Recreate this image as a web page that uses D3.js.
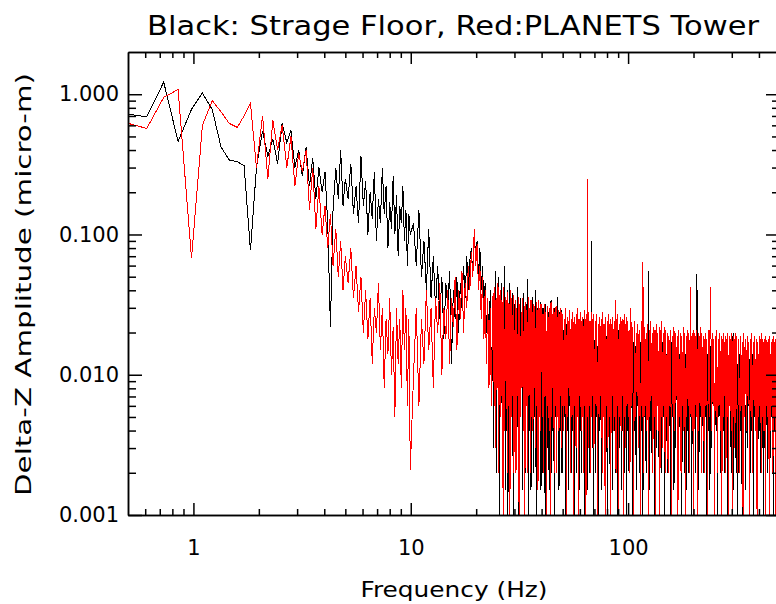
<!DOCTYPE html>
<html>
<head>
<meta charset="utf-8">
<script src="https://cdn.jsdelivr.net/npm/d3@7"></script>
<style>
  html, body { margin: 0; padding: 0; background: #fff; }
  svg { display: block; }
  text { font-family: "DejaVu Sans", sans-serif; fill: #000; }
</style>
</head>
<body>
<div id="chart"></div>
<script>
// frequency bins (Hz), shared by both spectra
var freqHz = [
  // 0.5 - 5 Hz
  0.50, 0.61, 0.73, 0.85, 0.98, 1.10, 1.22, 1.34, 1.46, 1.59,
  1.71, 1.83, 1.95, 2.08, 2.20, 2.32, 2.44, 2.56, 2.69, 2.81,
  2.93, 3.05, 3.17, 3.30, 3.42, 3.54, 3.66, 3.78, 3.91, 4.03,
  4.15, 4.27, 4.39, 4.52, 4.64, 4.76, 4.88, 5.00,
  // 5 - 10 Hz
  5.15, 5.30, 5.45, 5.60, 5.75, 5.90, 6.05, 6.20, 6.35, 6.50,
  6.65, 6.80, 6.95, 7.10, 7.25, 7.40, 7.55, 7.70, 7.85, 8.00,
  8.15, 8.30, 8.45, 8.60, 8.75, 8.90, 9.05, 9.20, 9.35, 9.50,
  9.65, 9.80, 9.95,
  // 10 - 20 Hz
  10.3, 10.6, 10.9, 11.2, 11.5, 11.8, 12.1, 12.4, 12.7, 13.0,
  13.3, 13.6, 13.9, 14.2, 14.5, 14.8, 15.1, 15.4, 15.7, 16.0,
  16.3, 16.6, 16.9, 17.2, 17.5, 17.8, 18.1, 18.4, 18.7, 19.0,
  19.3, 19.6, 19.9,
  // 20 - 24 Hz
  20.2, 20.5, 20.8, 21.1, 21.4, 21.7, 22.0, 22.3, 22.6, 22.9,
  23.2, 23.5, 23.8,
  // 24 - 30 Hz
  24.0, 24.2, 24.4, 24.6, 24.8, 25.0, 25.2, 25.4, 25.6, 25.8,
  26.0, 26.2, 26.4, 26.6, 26.8, 27.0, 27.2, 27.4, 27.6, 27.8,
  28.0, 28.2, 28.4, 28.6, 28.8, 29.0, 29.2, 29.4, 29.6, 29.8,
  // 30 - 40 Hz
  30.0, 30.25, 30.5, 30.75, 31.0, 31.25, 31.5, 31.75, 32.0, 32.25,
  32.5, 32.75, 33.0, 33.25, 33.5, 33.75, 34.0, 34.25, 34.5, 34.75,
  35.0, 35.25, 35.5, 35.75, 36.0, 36.25, 36.5, 36.75, 37.0, 37.25,
  37.5, 37.75, 38.0, 38.25, 38.5, 38.75, 39.0, 39.25, 39.5, 39.75,
  // 40 - 50 Hz
  40.0, 40.3, 40.6, 40.9, 41.2, 41.5, 41.8, 42.1, 42.4, 42.7,
  43.0, 43.3, 43.6, 43.9, 44.2, 44.5, 44.8, 45.1, 45.4, 45.7,
  46.0, 46.3, 46.6, 46.9, 47.2, 47.5, 47.8, 48.1, 48.4, 48.7,
  49.0, 49.3, 49.6, 49.9,
  // 50 - 70 Hz
  50.0, 50.4, 50.8, 51.2, 51.6, 52.0, 52.4, 52.8, 53.2, 53.6,
  54.0, 54.4, 54.8, 55.2, 55.6, 56.0, 56.4, 56.8, 57.2, 57.6,
  58.0, 58.4, 58.8, 59.2, 59.6, 60.0, 60.4, 60.8, 61.2, 61.6,
  62.0, 62.4, 62.8, 63.2, 63.6, 64.0, 64.4, 64.8, 65.2, 65.6,
  66.0, 66.4, 66.8, 67.2, 67.6, 68.0, 68.4, 68.8, 69.2, 69.6,
  // 70 - 100 Hz
  70.0, 70.6, 71.2, 71.8, 72.4, 73.0, 73.6, 74.2, 74.8, 75.4,
  76.0, 76.6, 77.2, 77.8, 78.4, 79.0, 79.6, 80.2, 80.8, 81.4,
  82.0, 82.6, 83.2, 83.8, 84.4, 85.0, 85.6, 86.2, 86.8, 87.4,
  88.0, 88.6, 89.2, 89.8, 90.4, 91.0, 91.6, 92.2, 92.8, 93.4,
  94.0, 94.6, 95.2, 95.8, 96.4, 97.0, 97.6, 98.2, 98.8, 99.4,
  // 100 - 150 Hz
  100, 101, 102, 103, 104, 105, 106, 107, 108, 109,
  110, 111, 112, 113, 114, 115, 116, 117, 118, 119,
  120, 121, 122, 123, 124, 125, 126, 127, 128, 129,
  130, 131, 132, 133, 134, 135, 136, 137, 138, 139,
  140, 141, 142, 143, 144, 145, 146, 147, 148, 149,
  // 150 - 220 Hz
  150, 151.4, 152.8, 154.2, 155.6, 157, 158.4, 159.8, 161.2, 162.6,
  164, 165.4, 166.8, 168.2, 169.6, 171, 172.4, 173.8, 175.2, 176.6,
  178, 179.4, 180.8, 182.2, 183.6, 185, 186.4, 187.8, 189.2, 190.6,
  192, 193.4, 194.8, 196.2, 197.6, 199, 200.4, 201.8, 203.2, 204.6,
  206, 207.4, 208.8, 210.2, 211.6, 213, 214.4, 215.8, 217.2, 218.6,
  // 220 - 320 Hz
  220, 222, 224, 226, 228, 230, 232, 234, 236, 238,
  240, 242, 244, 246, 248, 250, 252, 254, 256, 258,
  260, 262, 264, 266, 268, 270, 272, 274, 276, 278,
  280, 282, 284, 286, 288, 290, 292, 294, 296, 298,
  300, 302, 304, 306, 308, 310, 312, 314, 316, 318,
  // 320 - 500 Hz
  320, 323, 326, 329, 332, 335, 338, 341, 344, 347,
  350, 353, 356, 359, 362, 365, 368, 371, 374, 377,
  380, 383, 386, 389, 392, 395, 398, 401, 404, 407,
  410, 413, 416, 419, 422, 425, 428, 431, 434, 437,
  440, 443, 446, 449, 452, 455, 458, 461, 464, 467,
  470, 473, 476, 479, 482, 485, 488, 491, 494, 497,
  500
];

// black: storage floor (micro-m)
var floorAmp = [
  0.72, 0.69, 1.22, 0.46, 0.78, 1.02, 0.78, 0.42, 0.34, 0.33,
  0.31, 0.077, 0.30, 0.55, 0.36, 0.48, 0.32, 0.62, 0.45, 0.55,
  0.30, 0.40, 0.26, 0.42, 0.22, 0.35, 0.18, 0.30, 0.20, 0.28,
  0.12, 0.022, 0.15, 0.30, 0.18, 0.40, 0.16, 0.25,

  0.18, 0.32, 0.14, 0.22, 0.12, 0.36, 0.16, 0.24, 0.10, 0.20,
  0.13, 0.28, 0.09, 0.18, 0.12, 0.30, 0.14, 0.22, 0.08, 0.17,
  0.11, 0.26, 0.10, 0.19, 0.07, 0.16, 0.12, 0.22, 0.09, 0.15,
  0.06, 0.14, 0.10,

  0.12, 0.06, 0.15, 0.05, 0.09, 0.04, 0.11, 0.035, 0.07, 0.03,
  0.06, 0.025, 0.05, 0.018, 0.045, 0.03, 0.055, 0.012, 0.04, 0.025,
  0.05, 0.02, 0.045, 0.03, 0.06, 0.035, 0.07, 0.04, 0.065, 0.08,
  0.05, 0.10, 0.07,

  0.09, 0.05, 0.08, 0.04, 0.06, 0.03, 0.045, 0.02, 0.035, 0.012,
  0.04, 0.008, 0.03,

  0.003, 0.04, 0.006, 0.055, 0.002, 0.032, 0.009, 0.05, 0.001, 0.03,
  0.005, 0.045, 0.002, 0.035, 0.007, 0.06, 0.0015, 0.033, 0.004, 0.04,
  0.001, 0.028, 0.006, 0.045, 0.002, 0.032, 0.008, 0.038, 0.001, 0.03,

  0.032, 0.002, 0.026, 0.006, 0.042, 0.001, 0.028, 0.004, 0.035, 0.008,
  0.025, 0.0015, 0.038, 0.005, 0.027, 0.002, 0.032, 0.007, 0.048, 0.001,
  0.026, 0.004, 0.031, 0.0015, 0.025, 0.006, 0.036, 0.002, 0.028, 0.005,
  0.04, 0.001, 0.024, 0.004, 0.03, 0.002, 0.027, 0.007, 0.033, 0.0015,

  0.024, 0.002, 0.03, 0.005, 0.025, 0.001, 0.032, 0.006, 0.022, 0.003,
  0.028, 0.0015, 0.026, 0.007, 0.034, 0.002, 0.024, 0.004, 0.027, 0.001,
  0.03, 0.005, 0.023, 0.002, 0.036, 0.006, 0.025, 0.0015, 0.028, 0.004,
  0.022, 0.002, 0.029, 0.005,

  0.002, 0.021, 0.005, 0.018, 0.001, 0.023, 0.004, 0.019, 0.0015, 0.025,
  0.006, 0.018, 0.002, 0.022, 0.004, 0.017, 0.001, 0.024, 0.005, 0.02,
  0.002, 0.018, 0.007, 0.023, 0.0015, 0.019, 0.004, 0.021, 0.002, 0.018,
  0.005, 0.025, 0.001, 0.02, 0.006, 0.017, 0.003, 0.022, 0.0015, 0.019,
  0.004, 0.023, 0.002, 0.018, 0.005, 0.09, 0.003, 0.021, 0.001, 0.018,

  0.017, 0.002, 0.02, 0.005, 0.016, 0.001, 0.021, 0.004, 0.018, 0.0015,
  0.016, 0.006, 0.02, 0.002, 0.017, 0.004, 0.019, 0.001, 0.016, 0.005,
  0.022, 0.002, 0.018, 0.007, 0.016, 0.0015, 0.02, 0.004, 0.017, 0.002,
  0.019, 0.005, 0.016, 0.001, 0.021, 0.003, 0.017, 0.006, 0.018, 0.0015,
  0.016, 0.004, 0.02, 0.002, 0.017, 0.005, 0.019, 0.001, 0.016, 0.004,

  0.015, 0.002, 0.018, 0.005, 0.014, 0.001, 0.017, 0.004, 0.016, 0.0015,
  0.019, 0.006, 0.015, 0.002, 0.017, 0.004, 0.014, 0.001, 0.018, 0.005,
  0.016, 0.002, 0.015, 0.006, 0.055, 0.0015, 0.017, 0.004, 0.014, 0.002,
  0.018, 0.005, 0.015, 0.001, 0.017, 0.003, 0.016, 0.006, 0.014, 0.0015,
  0.018, 0.004, 0.015, 0.002, 0.017, 0.005, 0.014, 0.001, 0.016, 0.003,

  0.014, 0.002, 0.016, 0.004, 0.013, 0.001, 0.017, 0.005, 0.014, 0.0015,
  0.015, 0.003, 0.013, 0.006, 0.016, 0.002, 0.014, 0.004, 0.017, 0.001,
  0.013, 0.005, 0.015, 0.002, 0.014, 0.0015, 0.016, 0.004, 0.013, 0.002,
  0.015, 0.005, 0.014, 0.001, 0.016, 0.003, 0.013, 0.006, 0.015, 0.002,
  0.014, 0.052, 0.004, 0.016, 0.0015, 0.013, 0.005, 0.015, 0.002, 0.014,

  0.013, 0.002, 0.015, 0.005, 0.012, 0.001, 0.014, 0.004, 0.013, 0.0015,
  0.016, 0.003, 0.012, 0.006, 0.014, 0.002, 0.013, 0.004, 0.015, 0.001,
  0.012, 0.005, 0.014, 0.002, 0.013, 0.0015, 0.015, 0.004, 0.012, 0.002,
  0.014, 0.005, 0.013, 0.001, 0.015, 0.003, 0.012, 0.006, 0.014, 0.002,
  0.013, 0.004, 0.02, 0.0015, 0.012, 0.005, 0.014, 0.002, 0.013, 0.001,

  0.012, 0.002, 0.014, 0.004, 0.011, 0.001, 0.013, 0.005, 0.012, 0.0015,
  0.015, 0.003, 0.011, 0.006, 0.013, 0.002, 0.012, 0.004, 0.014, 0.001,
  0.011, 0.005, 0.013, 0.002, 0.012, 0.0015, 0.014, 0.004, 0.011, 0.002,
  0.013, 0.005, 0.012, 0.001, 0.014, 0.003, 0.011, 0.006, 0.013, 0.002,
  0.012, 0.004, 0.019, 0.0015, 0.011, 0.005, 0.013, 0.002, 0.012, 0.001,
  0.014, 0.004, 0.011, 0.002, 0.013, 0.005, 0.012, 0.0015, 0.018, 0.003,
  0.012
];

// red: PLANETS tower (micro-m)
var towerAmp = [
  0.62, 0.57, 0.95, 1.08, 0.068, 0.60, 0.90, 0.75, 0.62, 0.58,
  0.70, 0.86, 0.30, 0.70, 0.25, 0.65, 0.40, 0.60, 0.30, 0.50,
  0.22, 0.38, 0.28, 0.40, 0.15, 0.30, 0.11, 0.22, 0.10, 0.16,
  0.08, 0.14, 0.06, 0.11, 0.05, 0.09, 0.04, 0.07,

  0.045, 0.08, 0.035, 0.06, 0.028, 0.05, 0.02, 0.04, 0.018, 0.035,
  0.012, 0.03, 0.02, 0.045, 0.015, 0.03, 0.008, 0.025, 0.014, 0.035,
  0.01, 0.022, 0.005, 0.03, 0.012, 0.025, 0.008, 0.04, 0.015, 0.03,
  0.006, 0.025, 0.0021,

  0.01, 0.03, 0.006, 0.025, 0.012, 0.04, 0.015, 0.03, 0.008, 0.035,
  0.02, 0.045, 0.01, 0.03, 0.018, 0.04, 0.012, 0.035, 0.022, 0.05,
  0.015, 0.04, 0.025, 0.055, 0.02, 0.045, 0.03, 0.06, 0.04, 0.075,
  0.05, 0.11, 0.06,

  0.085, 0.04, 0.06, 0.025, 0.05, 0.018, 0.04, 0.012, 0.035, 0.008,
  0.03, 0.006, 0.035,

  0.038, 0.006, 0.042, 0.003, 0.035, 0.008, 0.045, 0.002, 0.037, 0.005,
  0.04, 0.007, 0.033, 0.001, 0.042, 0.004, 0.036, 0.009, 0.034, 0.002,
  0.039, 0.006, 0.032, 0.001, 0.04, 0.005, 0.035, 0.007, 0.037, 0.002,

  0.006, 0.034, 0.002, 0.03, 0.007, 0.036, 0.001, 0.032, 0.005, 0.028,
  0.008, 0.035, 0.004, 0.031, 0.001, 0.033, 0.006, 0.029, 0.002, 0.036,
  0.007, 0.03, 0.002, 0.034, 0.005, 0.028, 0.004, 0.032, 0.008, 0.031,
  0.003, 0.033, 0.006, 0.029, 0.0015, 0.034, 0.005, 0.03, 0.004, 0.032,

  0.03, 0.005, 0.027, 0.002, 0.032, 0.007, 0.028, 0.001, 0.031, 0.006,
  0.026, 0.004, 0.03, 0.001, 0.033, 0.005, 0.027, 0.008, 0.03, 0.002,
  0.028, 0.006, 0.031, 0.002, 0.026, 0.005, 0.029, 0.004, 0.027, 0.007,
  0.03, 0.003, 0.028, 0.006,

  0.027, 0.004, 0.025, 0.006, 0.03, 0.001, 0.026, 0.005, 0.024, 0.007,
  0.029, 0.002, 0.025, 0.005, 0.028, 0.001, 0.026, 0.006, 0.023, 0.003,
  0.027, 0.005, 0.03, 0.001, 0.025, 0.007, 0.028, 0.004, 0.024, 0.005,
  0.026, 0.002, 0.029, 0.006, 0.025, 0.001, 0.027, 0.005, 0.25, 0.003,
  0.026, 0.006, 0.024, 0.002, 0.028, 0.005, 0.025, 0.007, 0.027, 0.003,

  0.004, 0.024, 0.006, 0.027, 0.001, 0.023, 0.005, 0.026, 0.007, 0.025,
  0.002, 0.028, 0.005, 0.023, 0.001, 0.026, 0.006, 0.024, 0.003, 0.027,
  0.005, 0.025, 0.001, 0.023, 0.007, 0.026, 0.004, 0.024, 0.005, 0.034,
  0.002, 0.025, 0.006, 0.027, 0.001, 0.023, 0.005, 0.026, 0.004, 0.024,
  0.007, 0.025, 0.001, 0.027, 0.005, 0.023, 0.003, 0.026, 0.006, 0.024,

  0.005, 0.021, 0.002, 0.03, 0.006, 0.022, 0.001, 0.024, 0.005, 0.02,
  0.007, 0.023, 0.003, 0.021, 0.001, 0.024, 0.005, 0.064, 0.002, 0.022,
  0.006, 0.02, 0.004, 0.023, 0.001, 0.021, 0.005, 0.024, 0.007, 0.02,
  0.002, 0.022, 0.005, 0.021, 0.001, 0.023, 0.006, 0.02, 0.004, 0.022,
  0.001, 0.021, 0.005, 0.024, 0.003, 0.02, 0.006, 0.022, 0.002, 0.021,

  0.005, 0.02, 0.002, 0.019, 0.006, 0.021, 0.001, 0.019, 0.005, 0.022,
  0.004, 0.02, 0.007, 0.019, 0.001, 0.021, 0.005, 0.02, 0.002, 0.019,
  0.006, 0.022, 0.004, 0.02, 0.001, 0.019, 0.005, 0.021, 0.006, 0.02,
  0.002, 0.042, 0.005, 0.019, 0.004, 0.021, 0.001, 0.02, 0.006, 0.019,
  0.005, 0.021, 0.001, 0.02, 0.004, 0.019, 0.006, 0.022, 0.002, 0.02,

  0.005, 0.019, 0.002, 0.02, 0.006, 0.018, 0.001, 0.021, 0.005, 0.019,
  0.042, 0.004, 0.02, 0.006, 0.018, 0.001, 0.019, 0.005, 0.021, 0.002,
  0.018, 0.006, 0.02, 0.004, 0.019, 0.001, 0.018, 0.005, 0.02, 0.007,
  0.019, 0.002, 0.018, 0.005, 0.02, 0.001, 0.019, 0.006, 0.018, 0.004,
  0.02, 0.001, 0.019, 0.005, 0.018, 0.003, 0.02, 0.006, 0.019, 0.002,

  0.005, 0.018, 0.002, 0.019, 0.006, 0.017, 0.001, 0.02, 0.005, 0.018,
  0.004, 0.019, 0.007, 0.017, 0.001, 0.018, 0.005, 0.02, 0.002, 0.017,
  0.006, 0.019, 0.004, 0.018, 0.001, 0.017, 0.005, 0.019, 0.006, 0.018,
  0.002, 0.02, 0.005, 0.017, 0.004, 0.018, 0.001, 0.019, 0.006, 0.017,
  0.005, 0.018, 0.001, 0.019, 0.004, 0.017, 0.006, 0.018, 0.002, 0.019,
  0.005, 0.017, 0.001, 0.018, 0.006, 0.017, 0.004, 0.019, 0.005, 0.017,
  0.002
];

var xTickValues = [1, 10, 100];
var xTickLabels = ["1", "10", "100"];
var yTickValues = [1, 0.1, 0.01, 0.001];
var yTickLabels = ["1.000", "0.100", "0.010", "0.001"];
var titleText = "Black: Strage Floor, Red:PLANETS Tower";
var xTitle = "Frequency (Hz)";
var yTitle = "Delta-Z Amplitude (micro-m)";

var W = 776, H = 604;
var plotL = 128, plotR = 780, plotT = 52, plotB = 515;

var svg = d3.select("#chart").append("svg")
  .attr("width", W)
  .attr("height", H);

var x = d3.scaleLog().domain([0.5, 500]).range([plotL, plotR]);
var y = d3.scaleLog().domain([0.001, 2]).range([plotB, plotT]);

function pairs(amp) {
  var n = Math.min(freqHz.length, amp.length);
  var out = [];
  for (var i = 0; i < n; i++) out.push({ f: freqHz[i], a: amp[i] });
  return out;
}

// minor ticks 2..9 in every decade inside the domain
function minorTicks(domain) {
  var t = [];
  for (var e = -4; e <= 3; e++) {
    for (var m = 2; m <= 9; m++) {
      var v = m * Math.pow(10, e);
      if (v > domain[0] * 1.0001 && v < domain[1] * 0.9999) t.push(v);
    }
  }
  return t;
}

svg.append("clipPath").attr("id", "plotclip")
  .append("rect")
  .attr("x", plotL).attr("y", plotT)
  .attr("width", plotR - plotL).attr("height", plotB - plotT);

var line = d3.line()
  .x(function(d) { return x(d.f); })
  .y(function(d) { return y(d.a); });

var plot = svg.append("g").attr("clip-path", "url(#plotclip)");

plot.append("path")
  .datum(pairs(floorAmp))
  .attr("d", line)
  .attr("fill", "none")
  .attr("stroke", "#000")
  .attr("stroke-width", 1)
  .attr("shape-rendering", "crispEdges");

plot.append("path")
  .datum(pairs(towerAmp))
  .attr("d", line)
  .attr("fill", "none")
  .attr("stroke", "#ff0000")
  .attr("stroke-width", 1)
  .attr("shape-rendering", "crispEdges");

// axes (ticks point inwards)
function styleAxis(g) {
  g.attr("font-size", 21).attr("font-family", "DejaVu Sans, sans-serif");
  g.selectAll(".domain").attr("stroke", "#000").attr("stroke-width", 1.5);
  g.selectAll(".tick line").attr("stroke", "#000").attr("stroke-width", 1.5);
  g.selectAll(".tick text").attr("fill", "#000");
}

var xMinor = minorTicks(x.domain());
var yMinor = minorTicks(y.domain());

svg.append("g").attr("transform", "translate(0," + plotB + ")")
  .call(d3.axisBottom(x).tickValues(xTickValues)
    .tickFormat(function(d, i) { return xTickLabels[i]; })
    .tickSize(-12).tickSizeOuter(0).tickPadding(25))
  .call(styleAxis);
svg.append("g").attr("transform", "translate(0," + plotB + ")")
  .call(d3.axisBottom(x).tickValues(xMinor).tickFormat("").tickSize(-6).tickSizeOuter(0))
  .call(styleAxis);

svg.append("g").attr("transform", "translate(0," + plotT + ")")
  .call(d3.axisTop(x).tickValues(xTickValues).tickFormat("").tickSize(-12).tickSizeOuter(0))
  .call(styleAxis);
svg.append("g").attr("transform", "translate(0," + plotT + ")")
  .call(d3.axisTop(x).tickValues(xMinor).tickFormat("").tickSize(-6).tickSizeOuter(0))
  .call(styleAxis);

svg.append("g").attr("transform", "translate(" + plotL + ",0)")
  .call(d3.axisLeft(y).tickValues(yTickValues)
    .tickFormat(function(d, i) { return yTickLabels[i]; })
    .tickSize(-14).tickSizeOuter(0).tickPadding(9))
  .call(styleAxis);
svg.append("g").attr("transform", "translate(" + plotL + ",0)")
  .call(d3.axisLeft(y).tickValues(yMinor).tickFormat("").tickSize(-8).tickSizeOuter(0))
  .call(styleAxis);

svg.append("g").attr("transform", "translate(" + plotR + ",0)")
  .call(d3.axisRight(y).tickValues(yTickValues).tickFormat("").tickSize(-14).tickSizeOuter(0))
  .call(styleAxis);
svg.append("g").attr("transform", "translate(" + plotR + ",0)")
  .call(d3.axisRight(y).tickValues(yMinor).tickFormat("").tickSize(-8).tickSizeOuter(0))
  .call(styleAxis);

// titles, stretched to the width of the wide plotter font
svg.append("text")
  .attr("x", (plotL + plotR) / 2 - 1)
  .attr("y", 35)
  .attr("text-anchor", "middle")
  .attr("font-size", 26)
  .attr("textLength", 612)
  .attr("lengthAdjust", "spacingAndGlyphs")
  .text(titleText);

svg.append("text")
  .attr("x", (plotL + plotR) / 2)
  .attr("y", 597)
  .attr("text-anchor", "middle")
  .attr("font-size", 22)
  .attr("textLength", 187)
  .attr("lengthAdjust", "spacingAndGlyphs")
  .text(xTitle);

svg.append("text")
  .attr("transform", "translate(31," + ((plotT + plotB) / 2 + 1) + ") rotate(-90)")
  .attr("text-anchor", "middle")
  .attr("font-size", 22)
  .attr("textLength", 423)
  .attr("lengthAdjust", "spacingAndGlyphs")
  .text(yTitle);
</script>
</body>
</html>
